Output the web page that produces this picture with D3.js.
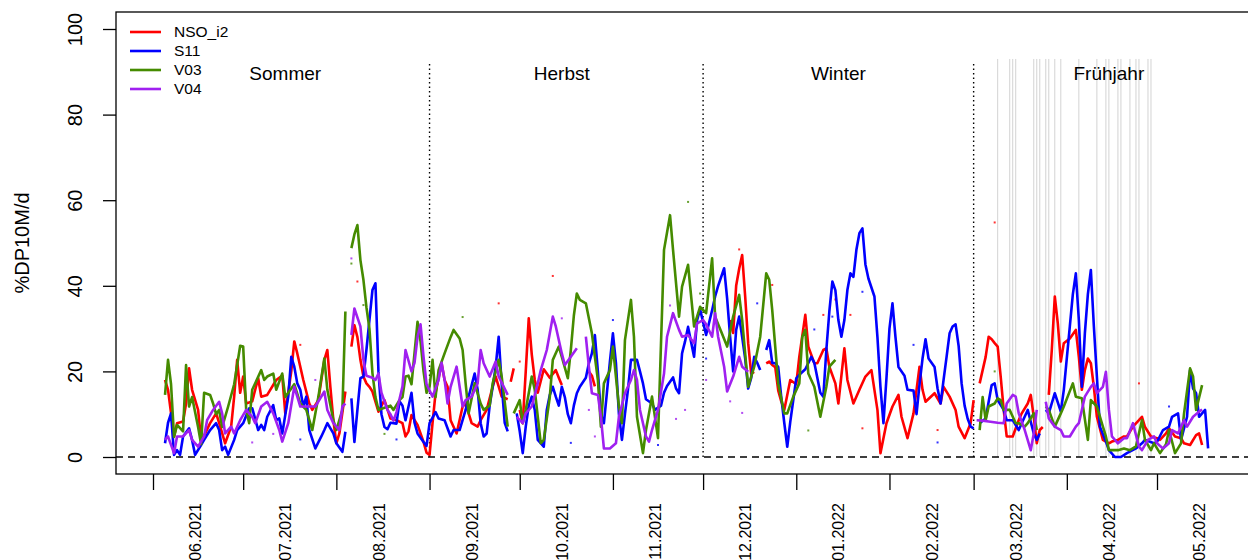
<!DOCTYPE html>
<html>
<head>
<meta charset="utf-8">
<script src="https://cdn.jsdelivr.net/npm/d3@7"></script>
<style>
  body { margin: 0; background: #fff; }
  svg text { font-family: "Liberation Sans", Arial, sans-serif; fill: #000; }
</style>
</head>
<body>
<svg id="chart" width="1248" height="560"></svg>
<script>
// day offsets are counted from 1 June 2021, null marks a gap in the series
var startDate = new Date(2021, 5, 1)

var nsoI2 = [
  [4,18],[5,15.7],[7,4.8],[8,7.9],[10,8.3],[11,12.5],[12,20.7],[13,15.7],[15,11],[16,4],[17,5],[19,7.9],[21,10.2],[22,8],[24,3.2],[26,7.1],[27,14.1],[28,22.7],[29,15],[30,18.8],[31,12.5],[33,13],[35,18.4],[36,14.1],[38,14.5],[39,15.7],[41,18],[43,19],[44,10.2],[46,20],[47,27],[48,24.2],[50,18],[52,12.5],[53,11],[55,13.3],[57,22.7],[58,25],[59,16.4],[60,8.6],[61,3.2],[62,5.5],[64,15.3],
  null,
  [66,25.8],[67,30.8],[68,28],[69,22.7],[70,18.8],[71,17.2],[72,16.4],[73,15.3],[75,10.6],[77,13.3],[79,9],[81,8.6],[83,7.9],[84,4.8],[85,6],[86,9.8],[88,7.5],[89,5.5],[90,3.5],[91,1],[92,0.5],[93,8],[94,15],[96,21.9],[97,18],[98,16.4],[99,8.6],[101,5.5],[103,11.8],[104,12.5],[106,7.9],[108,7.1],[109,8.6],[111,11],[113,16.4],[114,18.8],[116,14.1],[118,13.5],
  null,
  [119,17.6],[120,20.7],
  null,
  [122,11],[123,7.9],[124,20],[125,32.4],[126,24],[127,18],[128,15],[130,20.5],[132,18.5],[134,20.3],[135,18.5],[136,16.8],
  null,
  [145,20],[146,19],[147,16.5],
  null,
  [192,32],[193,29],[194,40],[195,44],[196,47.2],[197,37.5],[198,26.6],[199,19.5],[200,19.9],
  null,
  [204,21.9],[205,22.3],[206,21.5],[207,21],[208,15.5],[209,13],[210,11],[212,18],[214,17],[215,23.4],[217,33.2],[218,25.8],[220,21.9],[221,21.9],[223,25],[224,25.4],[225,21.1],[227,17.2],[228,12.5],[230,25.4],[231,18],[233,12.5],[235,15.7],[237,18.8],[239,20.3],[241,11],[242,0.9],[244,7.9],[246,11.8],[248,14.5],[249,9.4],[251,4.4],[253,10.2],[255,21.1],[256,15.7],[257,12.9],[260,14.9],[262,12.5],[263,16.4],[265,14.1],[267,11],[268,7.1],[270,4.4],[272,7.9],[273,13.3],
  null,
  [275,17.2],[277,23.4],[278,28.1],[279,27.5],[280,26.6],[281,25.8],[282,18.8],[283,11],[284,4.8],[286,4.8],[288,8.6],[289,10.2],[291,12.5],[292,14.5],[293,9.4],[294,3.2],[295,6.3],[296,7],
  null,
  [298,14.5],[299,25],[300,37.5],[301,31.2],[302,22.3],[303,26.6],[305,27.7],[307,29.7],[308,23.4],[309,15.7],[310,20.3],[311,23],[312,21.9],[313,16.4],[314,9.4],[316,4],[318,3.2],[319,3.6],[321,4],[323,4.8],[324,4.8],[326,7.1],[328,8.6],[329,9.4],[330,7],[332,4.8],[334,4.4],[335,4],[337,5.5],[338,6.7],[340,4.8],[342,4.4],[343,3.2],[345,2.8],[347,5.1],[348,5.5],[349,2.8]
]

var s11 = [
  [4,3.2],[5,8],[6,10.2],[7,0.5],[8,1.6],[9,0.5],[10,4.8],[12,6.7],[13,4],[14,0.5],[16,2.8],[17,4],[19,6.3],[21,7.9],[22,6.3],[23,1.6],[24,2.4],[25,0.5],[27,4],[28,6.3],[30,7.9],[32,11.4],[33,11.4],[35,6.3],[36,7.5],[37,6.3],[38,9.4],[40,12.1],[41,8.6],[42,9],[43,5.5],[45,14.1],[46,23.4],[47,21.1],[48,17.2],[49,15.7],[50,11.8],[51,14.1],[52,6.3],[54,2],[56,4.8],[57,6.3],[58,7.9],[60,5.5],[61,3.2],[63,1.2],[64,5.9],
  null,
  [66,13.7],[67,3.5],[68,11],[69,18.4],[70,18.8],[71,25],[72,32],[73,39],[74,40.6],[75,20],[76,10],[77,7],[78,6.5],[79,8],[81,7.8],[82,13],[83,12],[84,8.6],[86,15],[87,8],[88,5.5],[90,3.5],[91,2.6],[92,7.9],[94,10.5],[95,9],[97,8.6],[99,4.8],[100,6.3],[102,6.3],[104,11],[105,14.1],[107,19.5],[108,15.7],[109,7.9],[110,4.8],[111,5.5],[112,12],[113,16.4],[114,21.1],[115,28.1],[116,17],[117,8],[118,6],
  null,
  [121,10.2],[122,6],[123,0.9],[124,7.1],[125,12],[126,14.1],[127,11],[128,4],[130,2.4],[131,11],[132,14.5],[133,16.4],[134,14.1],[135,12],[136,16.4],[137,14],[138,10],[139,7.9],[140,12],[141,14.9],[142,16.4],[144,18.5],[145,21.9],[146,24.2],[147,28.5],[148,20],[149,10],[150,7.9],[151,15],[152,22.3],[153,28.9],[154,22],[155,10],[156,4],[157,10],[158,15.7],[159,22.7],[161,22.7],[162,20],[163,17.2],[164,13.5],[166,12.5],[167,11],[169,12],[170,15],[171,16.6],[173,18.6],[174,16],[175,14.9],[176,24.2],[177,27],[178,30.4],[180,23.4],[181,32],[182,34.5],[184,28.5],[186,34.3],[187,37.5],[188,40],[190,44.1],[191,37],[192,28],[193,20],[194,29.7],[195,32.8],[196,28],[197,23],[198,16],[199,18.5],[200,23.4],[201,22],[202,20.3],
  null,
  [204,25],[205,27.3],[206,22],[207,21.9],[208,21],[209,14],[210,8],[211,2.4],[212,8.2],[214,18.4],[215,19.2],[217,20.5],[219,23.4],[220,22],[222,15],[223,14.1],[224,25],[225,34],[226,41],[227,39],[228,32],[229,28.1],[230,32],[231,39],[232,42.9],[233,42.1],[234,48.4],[235,52.3],[236,53.4],[237,45],[238,41.7],[240,37.5],[241,28],[242,16.4],[243,7.9],[244,18.4],[245,30],[246,35.9],[247,28],[248,21],[250,19],[251,15.7],[253,15.5],[254,10],[255,17],[256,23],[257,27.5],[258,23],[260,21],[261,16],[262,12.5],[263,18],[264,23.4],[265,28.9],[266,30.5],[267,31],[268,26],[269,17.2],[270,12],[271,9],[272,7.1],[273,6.7],
  null,
  [275,7.9],[277,9],[279,16.8],[280,17.2],[281,13.3],[283,11],[284,8.6],[286,8.6],[288,6.3],[289,7.9],[291,11],[293,5.5],[294,4],[295,5.5],
  null,
  [297,11],[298,10.2],[300,14.9],[302,10.6],[303,15.7],[305,30.5],[306,38],[307,42.9],[308,32],[309,16.4],[310,28.9],[311,38],[312,43.7],[313,30.5],[314,18.8],[315,7.1],[317,3.6],[318,1.6],[320,0],[322,0],[324,0.9],[327,2],[329,3.2],[330,4],[333,3.2],[334,3.5],[336,6.3],[338,7.1],[339,9.4],[341,10.2],[342,4],[344,9.4],[345,20.3],[346,16],[347,14.9],[348,9.4],[350,11],[351,2]
]

var v03 = [
  [4,14.5],[5,22.7],[6,17],[7,4.7],[8,7.5],[10,6],[11,21.5],[12,11.8],[13,14],[15,7],[16,3],[17,15],[19,14.5],[20,12.5],[21,10],[22,11],[23,7],[25,11.8],[27,17],[29,26],[30,25.8],[31,11],[32,7.9],[33,15.7],[36,20.3],[37,18],[38,18.8],[40,19.5],[41,15.7],[43,19.5],[44,14],[47,17],[49,12.5],[51,11],[53,6.3],[55,14],[57,23],[58,15.7],[60,8.6],[61,6.3],[63,11],[64,34],
  null,
  [66,48.8],[67,52],[68,54.2],[69,46],[70,41.4],[71,35],[72,30],[73,19.6],[74,14],[75,11],[77,11.5],[79,12],[80,11],[82,13.3],[83,14],[84,18.8],[85,19],[86,17],[88,31.6],[89,27],[90,20],[91,15],[92,16.4],[93,22.7],[94,14],[95,20.3],[97,24.2],[99,28],[100,29.7],[102,27.7],[103,25],[104,17.2],[105,10.2],[107,17.2],[109,12.5],[110,11],[112,12],[113,17.2],[115,22.7],[116,18.8],[118,7.1],
  null,
  [120,10.2],[122,13.3],[123,7.9],[124,11],[126,18.8],[127,15.7],[129,3.2],[130,4],[132,14],[133,22.7],[135,25.8],[136,23.4],[138,18.4],[139,25],[140,33],[141,38.2],[142,36.7],[144,35.9],[146,28.9],[148,18],[149,7.1],[150,17.2],[152,20.3],[153,25.8],[155,11.8],[156,7.9],[157,27.3],[159,36.7],[160,28.1],[161,9.4],[163,0.9],[164,6.3],[166,14.1],[168,4.4],[169,26.6],[170,48.4],[172,56.5],[173,48.4],[175,32.8],[176,39.8],[178,44.9],[180,30.5],[182,35.1],[184,33.6],[186,46.4],[187,32.8],[189,29.3],[191,25.8],[193,32.8],[195,37.9],[196,32],[198,16.4],[200,21.1],[202,28.1],[204,42.9],[205,41.4],[206,34.3],[208,17.2],[210,10.2],[211,10.2],[213,14.1],[215,17.2],[216,28.1],[217,29.7],[218,19.5],[220,16.4],[222,9.4],[224,16.4],[225,21.1],[227,22.7],
  null,
  [275,6.3],[276,14],[277,8.6],[278,11.8],[280,12.5],[281,13.7],[282,13.3],[283,11],[285,11],[287,7.9],[288,7.9],[290,7.1],[291,7.9],[293,10.2],[294,6.3],
  null,
  [297,11.8],[298,11],[300,7.1],[302,10.2],[303,11.8],[306,17.2],[307,14.1],[309,13.7],[311,4],[312,13.3],[314,11.8],[316,7.1],[317,4.8],[318,1.6],[321,1.6],[323,2],[325,1.6],[327,2.5],[329,8.6],[330,4],[332,1.6],[333,3.2],[335,0.9],[337,3],[338,6.3],[340,0.9],[342,3.2],[343,10.2],[345,20.7],[346,18.8],[347,11],[349,16.8]
]

var v04 = [
  [4,4],[5,4.8],[7,0.9],[8,4.8],[10,4.8],[12,6.3],[13,4],[15,2.4],[17,4.8],[18,8.6],[20,11],[22,12.9],[23,10.2],[24,5.5],[26,7.1],[27,5.5],[29,8.6],[31,11],[33,9.4],[34,7.9],[36,11.8],[38,12.9],[40,10.2],[42,6.3],[43,3.6],[45,7.9],[47,16.4],[48,14.1],[49,11.8],[54,11.8],[57,15.3],[58,11],[60,7.9],[62,6.3],[63,11.8],[64,12.5],
  null,
  [66,28.5],[67,34.7],[69,30.5],[70,22.7],[71,19],[73,18.5],[74,18],[75,19.5],[76,15],[78,11],[79,10],[80,8.5],[81,10.5],[83,16.5],[84,25],[86,20],[87,22],[88,28],[89,31],[90,23.4],[91,17],[93,14.1],[95,18],[96,22],[97,18],[98,12.5],[99,16.4],[101,21.1],[103,11.8],[104,13.3],[106,14.1],[108,17.2],[109,25],[110,21.9],[112,18.8],[114,22.3],[115,18.8],[118,14.5],
  null,
  [121,9.4],[123,7.9],[124,10.2],[126,11.8],[128,17.2],[129,20.3],[131,25],[133,32.8],[134,30.5],[136,24.2],[137,21.5],[139,23.4],[141,25.4],
  null,
  [144,28.1],[145,21.1],[146,14.9],[148,14.5],[149,9.4],[150,2],[152,2],[154,3.2],[155,9.4],[157,14.9],[159,18],[160,20.3],[161,18],[162,11],[164,4.8],[165,3.6],[166,6.3],[168,11],[170,19.5],[171,28.1],[173,33.6],[175,29.7],[176,28.1],[178,28.5],[180,26.6],[181,31.2],[183,32],[184,31],[186,28.1],[187,33.6],[188,28.1],[190,21.1],[191,15.3],[193,18.8],[195,23.4],[196,21.1],[198,19.9],
  null,
  [274,8.6],[276,8.5],[278,8.3],[281,8],[283,7.9],[284,12.5],[286,14.5],[287,14.1],[288,10.2],[290,6.3],[292,1.6],[293,5.5],[294,11],
  null,
  [297,12.9],[298,9],[300,7.1],[302,6.3],[303,4.8],[305,4.8],[307,7.1],[308,7.9],[310,14.1],[312,16.4],[313,17.2],[314,14.9],[316,16.4],[317,19.9],[318,11],[319,4.8],[321,3.2],[323,4.4],[324,4.4],[326,7.9],[328,2.4],[329,1.6],[331,4],[333,4.8],[334,3.2],[336,2],[338,3.2],[339,6.3],[341,5.5],[343,8.6],[344,7.1],[346,9.4],[348,10.6],[349,11.1]
]

// single daily readings that stand apart from the smoothed lines
var nsoI2Dots = [[49,26.2],[68,41],[115,35.9],[122,22.3],[133,42.3],[195,48.5],[206,40.2],[223,33.2],[227,36.8],[232,33.2],[236,6.7],[261,6.3],[280,54.8],[328,17.2]]
var s11Dots = [[49,4.1],[81,4.1],[139,3.3],[153,32],[168,2.8],[184,23],[201,35.9],[220,29.8],[226,32.8],[236,38.6],[253,26.2],[261,3.4],[338,11.8]]
var v03Dots = [[66,45.2],[70,35.5],[77,5.4],[103,32.7],[141,37.9],[178,59.6],[182,38.2],[218,6.2],[280,20]]
var v04Dots = [[33,3.4],[40,5.4],[54,18],[66,46.4],[136,32.4],[145,11],[147,4.8],[172,35.4],[174,8.9],[177,11],[184,18],[192,13],[196,10.3]]

var seriesNames = ["NSO_i2", "S11", "V03", "V04"]
var seriesColors = ["#FF0000", "#0000FF", "#458B00", "#A020F0"]
var seasonNames = ["Sommer", "Herbst", "Winter", "Frühjahr"]
var seasonMid = [new Date(2021, 6, 15), new Date(2021, 9, 15), new Date(2022, 0, 15), new Date(2022, 3, 15)]
var seasonStart = [new Date(2021, 8, 1), new Date(2021, 11, 1), new Date(2022, 2, 1)]
// spring days (since 1 March 2022) marked with grey lines
var springMarks = [8, 12, 13, 14, 20, 21, 22, 24, 25, 27, 29, 35, 41, 44, 45, 48, 49, 52, 54, 55, 58, 59]
var yTicks = [0, 20, 40, 60, 80, 100]

var svg = d3.select("#chart")
var plotLeft = 116, plotRight = 1262, plotTop = 12, plotBottom = 474

var x = d3.scaleTime()
  .domain([new Date(2021, 5, 1), new Date(2022, 4, 1)])
  .range([153, 1157])
var y = d3.scaleLinear().domain([0, 100]).range([457, 29])

function dayDate(d) {
  return d3.timeDay.offset(startDate, d)
}

// grey marker lines in spring
svg.append("g")
  .selectAll("line")
  .data(springMarks)
  .enter().append("line")
  .attr("x1", function (d) { return x(d3.timeDay.offset(new Date(2022, 2, 1), d)) })
  .attr("x2", function (d) { return x(d3.timeDay.offset(new Date(2022, 2, 1), d)) })
  .attr("y1", y(0))
  .attr("y2", y(93))
  .attr("stroke", "#d3d3d3")
  .attr("stroke-width", 1)

// season borders
svg.append("g")
  .selectAll("line")
  .data(seasonStart)
  .enter().append("line")
  .attr("x1", function (d) { return x(d) })
  .attr("x2", function (d) { return x(d) })
  .attr("y1", y(0))
  .attr("y2", y(92))
  .attr("stroke", "#000")
  .attr("stroke-width", 1.4)
  .attr("stroke-dasharray", "1.5,3")

svg.append("g")
  .selectAll("text")
  .data(seasonNames)
  .enter().append("text")
  .attr("x", function (d, i) { return x(seasonMid[i]) })
  .attr("y", 80)
  .attr("text-anchor", "middle")
  .attr("font-size", 19)
  .text(function (d) { return d })

// zero line
svg.append("line")
  .attr("x1", plotLeft).attr("x2", plotRight)
  .attr("y1", y(0)).attr("y2", y(0))
  .attr("stroke", "#000")
  .attr("stroke-width", 1.4)
  .attr("stroke-dasharray", "7,5")

var line = d3.line()
  .defined(function (d) { return d !== null })
  .x(function (d) { return x(dayDate(d[0])) })
  .y(function (d) { return y(d[1]) })

var allSeries = [nsoI2, s11, v03, v04]
var allDots = [nsoI2Dots, s11Dots, v03Dots, v04Dots]

allDots.forEach(function (dots, i) {
  svg.append("g")
    .selectAll("rect")
    .data(dots)
    .enter().append("rect")
    .attr("x", function (d) { return x(dayDate(d[0])) - 1 })
    .attr("y", function (d) { return y(d[1]) - 1 })
    .attr("width", 2)
    .attr("height", 2)
    .attr("fill", seriesColors[i])
    .attr("opacity", 0.8)
})

allSeries.forEach(function (s, i) {
  svg.append("path")
    .datum(s)
    .attr("d", line)
    .attr("fill", "none")
    .attr("stroke", seriesColors[i])
    .attr("stroke-width", 2.6)
    .attr("stroke-linejoin", "round")
})

// frame
svg.append("rect")
  .attr("x", plotLeft).attr("y", plotTop)
  .attr("width", plotRight - plotLeft).attr("height", plotBottom - plotTop)
  .attr("fill", "none")
  .attr("stroke", "#000")
  .attr("stroke-width", 1.3)

// y axis
var yAxis = svg.append("g")
  .attr("transform", "translate(" + plotLeft + ",0)")
  .call(d3.axisLeft(y).tickValues(yTicks).tickSize(13).tickFormat(d3.format("d")))
yAxis.select(".domain").remove()
yAxis.selectAll("line").attr("stroke", "#000").attr("stroke-width", 1.3)
yAxis.selectAll("text")
  .attr("x", 0)
  .attr("dy", "0.35em")
  .attr("text-anchor", "middle")
  .attr("transform", "translate(-41,0) rotate(-90)")
  .attr("font-size", 20)
  .attr("font-family", "Liberation Sans, Arial, sans-serif")
  .attr("fill", "#000")

// x axis: month borders as ticks, labels in the middle of each month
var monthStarts = d3.timeMonth.range(new Date(2021, 5, 1), new Date(2022, 4, 2))
var monthMids = monthStarts.map(function (m) { return new Date(m.getFullYear(), m.getMonth(), 15) })

var xTicks = svg.append("g")
  .attr("transform", "translate(0," + plotBottom + ")")
  .call(d3.axisBottom(x).tickValues(monthStarts).tickSize(16).tickFormat(""))
xTicks.select(".domain").remove()
xTicks.selectAll("line").attr("stroke", "#000").attr("stroke-width", 1.3)

var xLabels = svg.append("g")
  .attr("transform", "translate(0," + (plotBottom + 29) + ")")
  .call(d3.axisBottom(x).tickValues(monthMids).tickSize(0).tickFormat(d3.timeFormat("%m.%Y")))
xLabels.select(".domain").remove()
xLabels.selectAll("text")
  .attr("x", 0).attr("y", 0)
  .attr("dy", "0.35em")
  .attr("text-anchor", "end")
  .attr("transform", "rotate(-90)")
  .attr("font-size", 16)
  .attr("font-family", "Liberation Sans, Arial, sans-serif")
  .attr("fill", "#000")

svg.append("text")
  .attr("transform", "translate(22,243) rotate(-90)")
  .attr("dy", "0.35em")
  .attr("text-anchor", "middle")
  .attr("font-size", 20)
  .text("%DP10M/d")

// legend
var legend = svg.append("g")
legend.selectAll("line")
  .data(seriesNames)
  .enter().append("line")
  .attr("x1", 130).attr("x2", 161)
  .attr("y1", function (d, i) { return 32 + i * 19 })
  .attr("y2", function (d, i) { return 32 + i * 19 })
  .attr("stroke", function (d, i) { return seriesColors[i] })
  .attr("stroke-width", 2.6)
legend.selectAll("text")
  .data(seriesNames)
  .enter().append("text")
  .attr("x", 174)
  .attr("y", function (d, i) { return 32 + i * 19 })
  .attr("dy", "0.35em")
  .attr("font-size", 15.5)
  .text(function (d) { return d })
</script>
</body>
</html>
